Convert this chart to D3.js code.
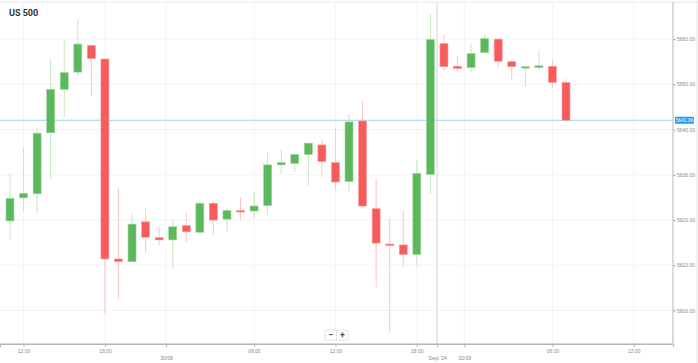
<!DOCTYPE html>
<html>
<head>
<meta charset="utf-8">
<script src="https://cdn.jsdelivr.net/npm/d3@7"></script>
<style>
  body { margin: 0; background: #fff; font-family: Roboto, "Open Sans", sans-serif; }
  .axis text { fill: #8a8a8a; font-size: 5px; }
  .axis path, .axis line { stroke: #b5b5b5; }
</style>
</head>
<body>
<svg width="698" height="363"></svg>
<script>
// hourly candles, left to right
var open  = [5619.8, 5624.9, 5625.8, 5639.3, 5648.9, 5652.7, 5658.6, 5655.6, 5611.4, 5610.8, 5619.6, 5616.1, 5615.6, 5618.8,
             5617.3, 5623.7, 5620.2, 5622.1, 5622.0, 5623.2, 5632.2, 5632.5, 5634.5, 5636.6, 5632.7, 5628.5, 5641.9, 5622.5,
             5614.7, 5614.5, 5612.4, 5630.1, 5659.0, 5654.0, 5653.7, 5657.0, 5660.0, 5655.0, 5653.7, 5653.7, 5654.0, 5650.4];
var high  = [5630.2, 5636.2, 5640.3, 5655.6, 5659.6, 5664.4, 5658.8, 5655.8, 5627.0, 5621.5, 5622.5, 5618.5, 5620.2, 5621.5,
             5624.1, 5624.1, 5622.8, 5625.0, 5626.1, 5635.1, 5635.6, 5634.6, 5637.1, 5637.9, 5640.3, 5643.4, 5646.5, 5629.0,
             5620.4, 5622.1, 5633.3, 5665.7, 5661.0, 5656.3, 5659.0, 5661.0, 5660.1, 5655.4, 5654.0, 5657.7, 5655.4, 5651.2];
var low   = [5615.6, 5622.0, 5621.5, 5629.0, 5642.6, 5651.9, 5647.4, 5599.4, 5602.5, 5610.7, 5612.8, 5614.5, 5609.4, 5615.2,
             5617.2, 5616.7, 5617.4, 5619.9, 5620.5, 5621.1, 5630.3, 5630.6, 5627.4, 5629.5, 5626.6, 5626.3, 5623.0, 5605.2,
             5595.1, 5609.7, 5609.9, 5625.8, 5653.0, 5653.0, 5652.6, 5657.0, 5653.9, 5650.9, 5649.5, 5653.2, 5649.2, 5642.06];
var close = [5624.8, 5625.9, 5639.2, 5648.9, 5652.6, 5658.9, 5655.7, 5611.4, 5610.8, 5619.1, 5616.2, 5615.6, 5618.5, 5617.4,
             5623.7, 5620.0, 5622.1, 5621.9, 5623.1, 5632.2, 5632.7, 5634.5, 5637.0, 5632.9, 5628.4, 5641.7, 5623.1, 5614.9,
             5614.5, 5612.4, 5630.3, 5659.9, 5653.9, 5653.5, 5656.8, 5660.1, 5655.1, 5653.9, 5653.9, 5654.1, 5650.4, 5642.06];

var lastPrice = 5642.06;

// x axis ticks, placed on the candle index
var timeTicks  = [1, 7, 18, 24, 30, 40, 46];
var timeLabels = ["12:00", "18:00", "06:00", "12:00", "18:00", "06:00", "12:00"];
var dateTicks  = [11.5, 31.5, 33.5];
var dateLabels = ["30/08", "Sept '24", "02/09"];
var priceTicks = [5600, 5610, 5620, 5630, 5640, 5650, 5660];

var svg = d3.select("svg");
var plotRight = 673, plotTop = 2, plotBottom = 344;

var x = d3.scaleLinear().domain([-0.737, 48.89]).range([0, plotRight]);
var y = d3.scaleLinear().domain([5592.6, 5668.2]).range([plotBottom, plotTop]);

var up = "#5cb85c", down = "#f75c5c";

// borders
svg.append("line").attr("x1", 0).attr("x2", 698).attr("y1", plotTop).attr("y2", plotTop)
  .attr("stroke", "#e6e6e6");
svg.append("line").attr("x1", 697).attr("x2", 697).attr("y1", 0).attr("y2", 363)
  .attr("stroke", "#e6e6e6");

// grid
var grid = svg.append("g");
grid.selectAll(".hg").data(priceTicks).enter().append("line")
  .attr("x1", 0).attr("x2", plotRight)
  .attr("y1", d => y(d)).attr("y2", d => y(d))
  .attr("stroke", "#f3f3f3");
grid.selectAll(".vg").data(timeTicks.concat(dateTicks)).enter().append("line")
  .attr("x1", d => x(d)).attr("x2", d => x(d))
  .attr("y1", plotTop).attr("y2", plotBottom)
  .attr("stroke", d => d === 31.5 ? "#e2e2e2" : "#f3f3f3")
  .attr("stroke-width", d => d === 31.5 ? 1.5 : 1);

// title
svg.append("text").attr("x", 9).attr("y", 16)
  .style("font-size", "9px").style("font-weight", "bold").style("fill", "#333")
  .text("US 500");

// last price line
svg.append("line").attr("x1", 0).attr("x2", plotRight)
  .attr("y1", y(lastPrice)).attr("y2", y(lastPrice))
  .attr("stroke", "#9fd0f3");

// candles
var candles = d3.range(open.length).map(i => ({ i: i, o: open[i], h: high[i], l: low[i], c: close[i] }));
var bw = 8;
var cg = svg.append("g").selectAll("g").data(candles).enter().append("g");
cg.append("line")
  .attr("x1", d => x(d.i)).attr("x2", d => x(d.i))
  .attr("y1", d => y(d.h)).attr("y2", d => y(d.l))
  .attr("stroke", d => d.c >= d.o ? "#c6e6c1" : "#ffc4c4")
  .attr("stroke-width", 1);
cg.append("rect")
  .attr("x", d => x(d.i) - bw / 2)
  .attr("width", bw)
  .attr("y", d => y(Math.max(d.o, d.c)))
  .attr("height", d => Math.max(1.5, Math.abs(y(d.o) - y(d.c))))
  .attr("fill", d => d.c >= d.o ? up : down)
  .attr("stroke", d => d.c >= d.o ? "#9fd69a" : "#ff9a9a")
  .attr("stroke-width", 0.6);

// axes
var tmap = new Map(timeTicks.map((t, k) => [t, timeLabels[k]]));
var dmap = new Map(dateTicks.map((t, k) => [t, dateLabels[k]]));

svg.append("g").attr("class", "axis")
  .attr("transform", "translate(0," + plotBottom + ")")
  .call(d3.axisBottom(x).tickValues(timeTicks).tickFormat(d => tmap.get(d)).tickSizeOuter(0).tickSize(3).tickPadding(2));
svg.append("g").attr("class", "axis")
  .attr("transform", "translate(0," + plotBottom + ")")
  .call(d3.axisBottom(x).tickValues(dateTicks).tickFormat(d => dmap.get(d)).tickSizeOuter(0).tickSize(3).tickPadding(9))
  .select(".domain").remove();

var ya = svg.append("g").attr("class", "axis")
  .attr("transform", "translate(" + plotRight + ",0)")
  .call(d3.axisRight(y).tickValues(priceTicks).tickFormat(d3.format(".2f")).tickSize(3).tickPadding(1).tickSizeOuter(0));
ya.select(".domain").attr("d", "M0," + plotTop + "V" + plotBottom);

svg.append("line").attr("x1", 0).attr("x2", plotRight).attr("y1", plotBottom).attr("y2", plotBottom)
  .attr("stroke", "#b5b5b5");

// last price tag
var tag = svg.append("g").attr("transform", "translate(" + (plotRight + 2) + "," + y(lastPrice) + ")");
tag.append("rect").attr("x", 0).attr("y", -3.5).attr("width", 19).attr("height", 7).attr("rx", 1)
  .attr("fill", "#2196f3");
tag.append("text").attr("x", 9.5).attr("y", 1.8).attr("text-anchor", "middle")
  .style("font-size", "5px").style("fill", "#fff").text(lastPrice.toFixed(2));

// zoom buttons
var zb = svg.append("g").attr("transform", "translate(325,330)");
zb.append("rect").attr("width", 23).attr("height", 10).attr("rx", 1)
  .attr("fill", "#fff").attr("stroke", "#e3e3e3");
zb.append("line").attr("x1", 11.5).attr("x2", 11.5).attr("y1", 0).attr("y2", 10).attr("stroke", "#e3e3e3");
zb.append("text").attr("x", 5.5).attr("y", 7.5).attr("text-anchor", "middle")
  .style("font-size", "9px").style("font-weight", "bold").style("fill", "#555").text("\u2212");
zb.append("text").attr("x", 17.5).attr("y", 7.5).attr("text-anchor", "middle")
  .style("font-size", "9px").style("font-weight", "bold").style("fill", "#555").text("+");
</script>
</body>
</html>
